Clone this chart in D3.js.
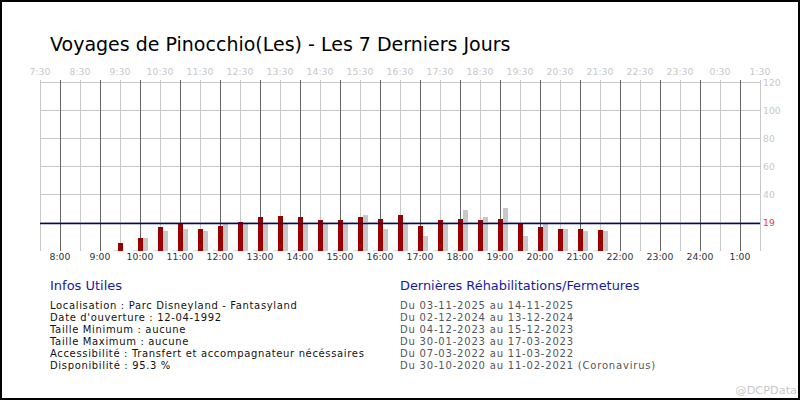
<!DOCTYPE html>
<html>
<head>
<meta charset="utf-8">
<script src="https://cdn.jsdelivr.net/npm/d3@7"></script>
<style>
  body { margin: 0; background: #fff; }
  svg { display: block; }
</style>
</head>
<body>
<div id="chart"></div>
<script>
// data
const slots = [9.5, 10, 10.5, 11, 11.5, 12, 12.5, 13, 13.5, 14, 14.5, 15, 15.5, 16, 16.5,
  17, 17.5, 18, 18.5, 19, 19.5, 20, 20.5, 21, 21.5];
const redValues = [5.7, 9.3, 17.1, 20, 15.7, 17.9, 20.7, 24.3, 25, 24.3, 22.1, 22.1, 24.3, 22.9, 25.7,
  17.9, 22.1, 22.9, 22.1, 22.9, 20, 17.1, 15.7, 15.7, 15];
const greyValues = [0, 9.3, 14.3, 15.7, 14.3, 19.3, 19.3, 19.3, 19.3, 19.3, 19.3, 19.3, 25.7, 15.7, 19.3,
  10.7, 19.3, 29.3, 24.3, 30.7, 10.7, 19.3, 15.7, 14.3, 14.3];
const baseValues = slots.map(() => 0);
const average = 19;
const hourLabels = ["8:00", "9:00", "10:00", "11:00", "12:00", "13:00", "14:00", "15:00", "16:00",
  "17:00", "18:00", "19:00", "20:00", "21:00", "22:00", "23:00", "24:00", "1:00"];
const halfLabels = ["7:30", "8:30", "9:30", "10:30", "11:30", "12:30", "13:30", "14:30", "15:30", "16:30",
  "17:30", "18:30", "19:30", "20:30", "21:30", "22:30", "23:30", "0:30", "1:30"];
const yTicks = [20, 40, 60, 80, 100, 120];
const yLabels = [40, 60, 80, 100, 120];

const title = "Voyages de Pinocchio(Les) - Les 7 Derniers Jours";
const infoTitle = "Infos Utiles";
const infoLines = [
  "Localisation : Parc Disneyland - Fantasyland",
  "Date d'ouverture : 12-04-1992",
  "Taille Minimum : aucune",
  "Taille Maximum : aucune",
  "Accessibilité : Transfert et accompagnateur nécéssaires",
  "Disponibilité : 95.3 %"
];
const closuresTitle = "Dernières Réhabilitations/Fermetures";
const closureLines = [
  "Du 03-11-2025 au 14-11-2025",
  "Du 02-12-2024 au 13-12-2024",
  "Du 04-12-2023 au 15-12-2023",
  "Du 30-01-2023 au 17-03-2023",
  "Du 07-03-2022 au 11-03-2022",
  "Du 30-10-2020 au 11-02-2021 (Coronavirus)"
];

const width = 800, height = 400;
const font = "'DejaVu Sans', Verdana, sans-serif";

const svg = d3.select("#chart").append("svg")
  .attr("width", width)
  .attr("height", height)
  .attr("font-family", font);

svg.append("rect")
  .attr("x", 1).attr("y", 1)
  .attr("width", width - 2).attr("height", height - 2)
  .attr("fill", "#fff").attr("stroke", "#000").attr("stroke-width", 2);

const x = d3.scaleLinear().domain([7.5, 25.5]).range([40, 760]);
const y = d3.scaleLinear().domain([0, 120]).range([251, 83]);

const grid = svg.append("g").attr("shape-rendering", "crispEdges");

// horizontal grid
grid.selectAll("line.h")
  .data(yTicks)
  .join("line")
  .attr("class", "h")
  .attr("x1", x(7.5)).attr("x2", x(25.5))
  .attr("y1", d => y(d) - 0.5).attr("y2", d => y(d) - 0.5)
  .attr("stroke", "#c8c8c8");

// half-hour lines
const halfHours = halfLabels.map((d, i) => 7.5 + i);
grid.selectAll("line.half")
  .data(halfHours)
  .join("line")
  .attr("class", "half")
  .attr("x1", d => x(d) + 0.5).attr("x2", d => x(d) + 0.5)
  .attr("y1", 80).attr("y2", 251)
  .attr("stroke", "#c8c8c8");

// hour lines
const hours = hourLabels.map((d, i) => 8 + i);
grid.selectAll("line.hour")
  .data(hours)
  .join("line")
  .attr("class", "hour")
  .attr("x1", d => x(d) + 0.5).attr("x2", d => x(d) + 0.5)
  .attr("y1", 80).attr("y2", 251)
  .attr("stroke", "#666");

// bars
const bars = svg.append("g").attr("shape-rendering", "crispEdges");
bars.selectAll("rect.base")
  .data(slots.map((s, i) => ({ s, v: baseValues[i] })))
  .join("rect")
  .attr("class", "base")
  .attr("x", d => x(d.s) - 7).attr("width", 5)
  .attr("y", d => Math.min(y(d.v), y(0) - 1))
  .attr("height", d => Math.max(y(0) - y(d.v), 1))
  .attr("fill", "#dcdcdc");

bars.selectAll("rect.grey")
  .data(slots.map((s, i) => ({ s, v: greyValues[i] })).filter(d => d.v > 0))
  .join("rect")
  .attr("class", "grey")
  .attr("x", d => x(d.s) + 3).attr("width", 5)
  .attr("y", d => y(d.v))
  .attr("height", d => y(0) - y(d.v))
  .attr("fill", "#c8c8c8");

bars.selectAll("rect.red")
  .data(slots.map((s, i) => ({ s, v: redValues[i] })))
  .join("rect")
  .attr("class", "red")
  .attr("x", d => x(d.s) - 2).attr("width", 5)
  .attr("y", d => y(d.v))
  .attr("height", d => y(0) - y(d.v))
  .attr("fill", "#990000");

// average line
svg.append("line")
  .attr("x1", x(7.5)).attr("x2", x(25.5))
  .attr("y1", Math.floor(y(average)) - 0.5).attr("y2", Math.floor(y(average)) - 0.5)
  .attr("stroke", "#000080")
  .attr("stroke-width", 1.6);

// axis labels
svg.append("g").selectAll("text")
  .data(halfLabels)
  .join("text")
  .attr("x", (d, i) => x(halfHours[i]))
  .attr("y", 75)
  .attr("text-anchor", "middle")
  .attr("font-size", 9.3)
  .attr("fill", "#c8c8c8")
  .text(d => d);

svg.append("g").selectAll("text")
  .data(hourLabels)
  .join("text")
  .attr("x", (d, i) => x(hours[i]))
  .attr("y", 260)
  .attr("text-anchor", "middle")
  .attr("font-size", 9.3)
  .attr("fill", "#333")
  .text(d => d);

svg.append("g").selectAll("text")
  .data(yLabels)
  .join("text")
  .attr("x", x(25.5) + 3)
  .attr("y", d => y(d) + 3)
  .attr("font-size", 9.3)
  .attr("fill", "#c8c8c8")
  .text(d => d);

svg.append("text")
  .attr("x", x(25.5) + 3)
  .attr("y", y(average) + 2)
  .attr("font-size", 9.3)
  .attr("fill", "#ff3333")
  .text(average);

// title
svg.append("text")
  .attr("x", 50).attr("y", 51)
  .attr("font-size", 19)
  .attr("fill", "#000")
  .text(title);

// info blocks
svg.append("text")
  .attr("x", 50).attr("y", 290)
  .attr("font-size", 13)
  .attr("fill", "#1a1aa0")
  .text(infoTitle);

svg.append("g").selectAll("text")
  .data(infoLines)
  .join("text")
  .attr("x", 50)
  .attr("y", (d, i) => 309 + i * 12)
  .attr("font-size", 10)
  .attr("letter-spacing", 0.65)
  .attr("fill", "#111")
  .text(d => d);

svg.append("text")
  .attr("x", 400).attr("y", 290)
  .attr("font-size", 12.9)
  .attr("fill", "#1a1aa0")
  .text(closuresTitle);

svg.append("g").selectAll("text")
  .data(closureLines)
  .join("text")
  .attr("x", 400)
  .attr("y", (d, i) => 309 + i * 12)
  .attr("font-size", 10)
  .attr("letter-spacing", 0.8)
  .attr("fill", "#555")
  .text(d => d);

svg.append("text")
  .attr("x", 797).attr("y", 394)
  .attr("text-anchor", "end")
  .attr("font-size", 11.3)
  .attr("fill", "#c8c8c8")
  .text("@DCPData");
</script>
</body>
</html>
